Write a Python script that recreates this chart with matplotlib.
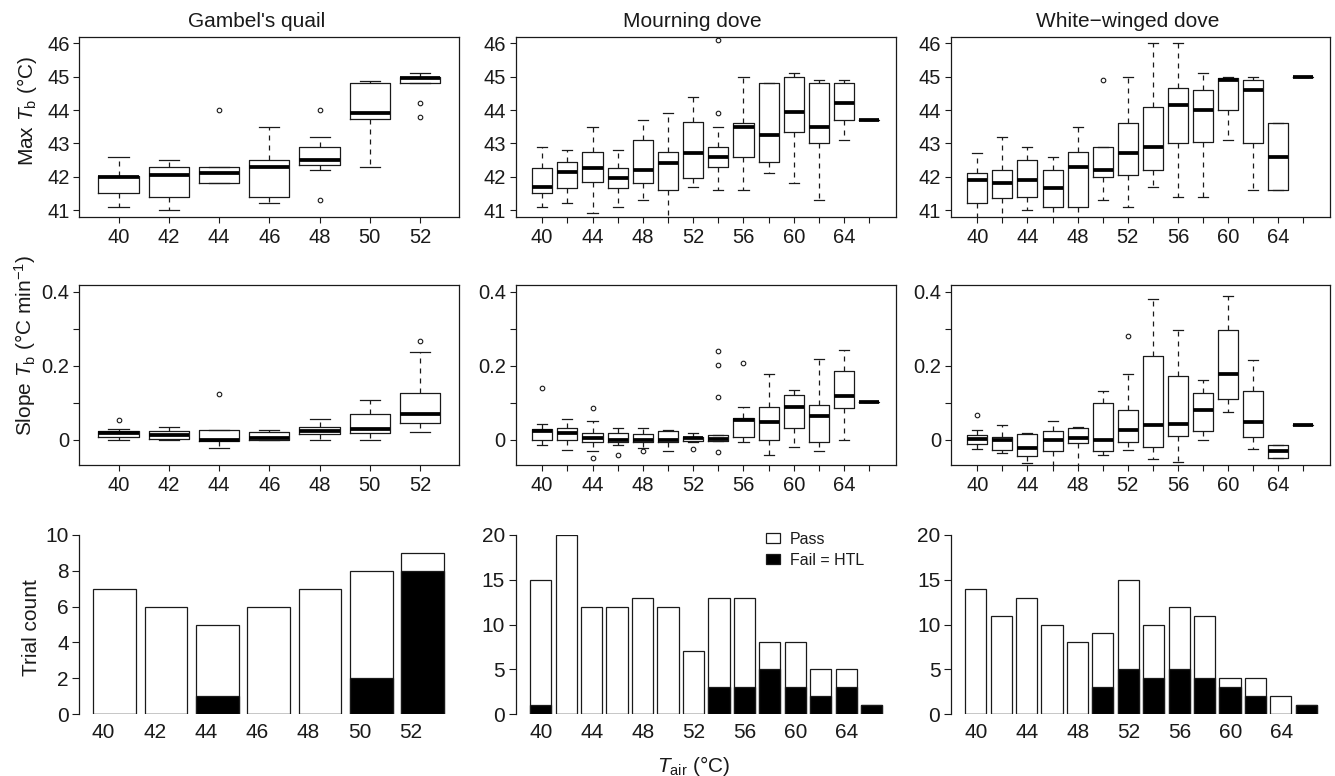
import matplotlib
matplotlib.use("Agg")
import matplotlib.pyplot as plt
from matplotlib.patches import Patch

plt.rcParams['font.family'] = ['Liberation Sans', 'DejaVu Sans']
plt.rcParams['mathtext.fontset'] = 'custom'
plt.rcParams['mathtext.rm'] = 'Liberation Sans'
plt.rcParams['mathtext.it'] = 'Liberation Sans:italic'

# ---------------- data ----------------
species = ["Gambel's quail", "Mourning dove", "White\u2212winged dove"]
gq_tair = [40, 42, 44, 46, 48, 50, 52]
dove_tair = [40, 42, 44, 46, 48, 50, 52, 54, 56, 58, 60, 62, 64, 66]

# box stats: (whislo, q1, median, q3, whishi)
gq_max = [(41.1, 41.5, 42.0, 42.02, 42.6), (41.0, 41.4, 42.05, 42.3, 42.5),
          (41.8, 41.8, 42.1, 42.3, 42.3), (41.2, 41.4, 42.3, 42.5, 43.5),
          (42.2, 42.35, 42.5, 42.9, 43.2), (42.3, 43.74, 43.9, 44.8, 44.88),
          (44.8, 44.8, 44.95, 45.0, 45.1)]
gq_max_out = [[], [], [44.0], [], [44.0, 41.3], [], [44.2, 43.8]]

md_max = [(41.1, 41.5, 41.7, 42.25, 42.9), (41.2, 41.65, 42.15, 42.45, 42.8),
          (40.9, 41.85, 42.25, 42.75, 43.5), (41.1, 41.65, 41.95, 42.25, 42.8),
          (41.3, 41.8, 42.2, 43.1, 43.7), (40.6, 41.6, 42.4, 42.75, 43.9),
          (41.7, 41.95, 42.7, 43.65, 44.4), (41.6, 42.3, 42.6, 42.9, 43.5),
          (41.6, 42.6, 43.5, 43.6, 45.0), (42.1, 42.45, 43.25, 44.8, 44.8),
          (41.8, 43.35, 43.95, 45.0, 45.1), (41.3, 43.0, 43.5, 44.8, 44.9),
          (43.1, 43.7, 44.2, 44.8, 44.9), (43.7, 43.7, 43.7, 43.7, 43.7)]
md_max_out = [[], [], [], [], [], [], [], [46.1, 43.9], [], [], [], [], [], []]

ww_max = [(40.6, 41.2, 41.9, 42.1, 42.7), (40.6, 41.35, 41.8, 42.2, 43.2),
          (41.0, 41.4, 41.9, 42.5, 42.9), (40.6, 41.1, 41.65, 42.2, 42.6),
          (40.6, 41.1, 42.3, 42.75, 43.5), (41.3, 42.0, 42.2, 42.9, 42.9),
          (41.1, 42.05, 42.7, 43.6, 45.0), (41.7, 42.2, 42.9, 44.1, 46.0),
          (41.4, 43.0, 44.15, 44.65, 46.0), (41.4, 43.05, 44.0, 44.6, 45.1),
          (43.1, 44.0, 44.9, 44.95, 45.0), (41.6, 43.0, 44.6, 44.9, 45.0),
          (41.6, 41.6, 42.6, 43.6, 43.6), (45.0, 45.0, 45.0, 45.0, 45.0)]
ww_max_out = [[], [], [], [], [], [44.9], [], [], [], [], [], [], [], []]

gq_slope = [(0.0, 0.007, 0.018, 0.025, 0.029), (0.0, 0.003, 0.0135, 0.024, 0.034),
            (-0.022, -0.003, 0.0, 0.027, 0.027), (0.0, 0.0, 0.006, 0.02, 0.027),
            (0.0, 0.015, 0.025, 0.036, 0.057), (0.0, 0.018, 0.029, 0.071, 0.109),
            (0.022, 0.045, 0.070, 0.128, 0.238)]
gq_slope_out = [[0.054], [], [0.125], [], [], [], [0.268]]

md_slope = [(-0.013, 0.0, 0.025, 0.029, 0.043), (-0.027, 0.0, 0.018, 0.031, 0.057),
            (-0.031, -0.0045, 0.0045, 0.018, 0.051), (-0.015, -0.0045, 0.0, 0.018, 0.031),
            (-0.022, -0.0045, 0.0, 0.015, 0.031), (-0.031, -0.007, 0.0, 0.024, 0.027),
            (-0.005, -0.003, 0.0045, 0.009, 0.018), (-0.004, -0.004, 0.003, 0.0135, 0.0135),
            (-0.007, 0.009, 0.053, 0.06, 0.09), (-0.04, 0.0, 0.0485, 0.089, 0.179),
            (-0.02, 0.031, 0.089, 0.121, 0.134), (-0.031, -0.007, 0.065, 0.0935, 0.22),
            (0.0, 0.087, 0.119, 0.185, 0.242), (0.1016, 0.1016, 0.1016, 0.1016, 0.1016)]
md_slope_out = [[0.139], [], [0.087, -0.049], [-0.04], [-0.029], [], [-0.025],
                [0.241, 0.203, 0.117, -0.034], [0.207], [], [], [], [], []]

ww_slope = [(-0.025, -0.012, 0.002, 0.012, 0.027), (-0.036, -0.027, 0.0, 0.009, 0.039),
            (-0.063, -0.043, -0.022, 0.015, 0.018), (-0.075, -0.030, 0.0, 0.024, 0.051),
            (-0.075, -0.009, 0.0054, 0.033, 0.036), (-0.04, -0.031, 0.0, 0.099, 0.132),
            (-0.027, -0.0045, 0.027, 0.080, 0.179), (-0.052, -0.018, 0.0396, 0.228, 0.382),
            (-0.061, 0.011, 0.043, 0.173, 0.298), (0.0, 0.025, 0.080, 0.126, 0.162),
            (0.074, 0.110, 0.179, 0.298, 0.388), (-0.025, 0.009, 0.047, 0.131, 0.215),
            (-0.048, -0.048, -0.031, -0.015, -0.015), (0.0396, 0.0396, 0.0396, 0.0396, 0.0396)]
ww_slope_out = [[0.066], [], [], [], [], [], [0.281], [], [], [], [], [], [], []]

gq_total = [7, 6, 5, 6, 7, 8, 9]
gq_fail = [0, 0, 1, 0, 0, 2, 8]
md_total = [15, 20, 12, 12, 13, 12, 7, 13, 13, 8, 8, 5, 5, 1]
md_fail = [1, 0, 0, 0, 0, 0, 0, 3, 3, 5, 3, 2, 3, 1]
ww_total = [14, 11, 13, 10, 8, 9, 15, 10, 12, 11, 4, 4, 2, 1]
ww_fail = [0, 0, 0, 0, 0, 3, 5, 4, 5, 4, 3, 2, 0, 1]

# ---------------- figure ----------------
W, H = 1335, 776
fig = plt.figure(figsize=(W / 100, H / 100), dpi=100)
INK = '#1a1a1a'
TICK_FS = 14.5
BAR_FS = 15


def ax_px(l, t, r, b):
    return fig.add_axes([l / W, 1 - b / H, (r - l) / W, (b - t) / H])


cols = [(79.3, 459.3), (515.5, 896), (950.7, 1330)]


def draw_box(ax, stats, outs, tair, ylim, yticks, ylabels):
    n = len(stats)
    bxs = []
    for (lo, q1, med, q3, hi), fl in zip(stats, outs):
        bxs.append(dict(whislo=lo, q1=q1, med=med, q3=q3, whishi=hi, fliers=fl))
    pos = list(range(1, n + 1))
    ax.bxp(bxs, positions=pos, widths=0.8, showfliers=True,
           boxprops=dict(color=INK, lw=0.9),
           whiskerprops=dict(color=INK, lw=0.9, linestyle=(0, (4, 4))),
           capprops=dict(color=INK, lw=0.9),
           medianprops=dict(color='black', lw=2.7, solid_capstyle='butt'),
           flierprops=dict(marker='o', markersize=3.3, markerfacecolor='none',
                           markeredgecolor=INK, markeredgewidth=0.8),
           manage_ticks=False)
    ax.set_xlim(1 - 0.5 - 0.04 * n, n + 0.5 + 0.04 * n)
    ax.set_ylim(*ylim)
    ax.set_xticks(pos)
    step = 1 if n <= 7 else 2
    ax.set_xticklabels([str(t) if i % step == 0 else '' for i, t in enumerate(tair)])
    ax.set_yticks(yticks)
    ax.set_yticklabels(ylabels)
    ax.tick_params(axis='both', direction='out', length=4.5, width=0.8,
                   color=INK, labelsize=TICK_FS, labelcolor=INK, pad=2.5)
    ax.tick_params(axis='x', pad=3.5)
    for s in ax.spines.values():
        s.set_color(INK)
        s.set_linewidth(0.9)


max_sets = [(gq_max, gq_max_out, gq_tair), (md_max, md_max_out, dove_tair),
            (ww_max, ww_max_out, dove_tair)]
slope_sets = [(gq_slope, gq_slope_out, gq_tair), (md_slope, md_slope_out, dove_tair),
              (ww_slope, ww_slope_out, dove_tair)]
bar_sets = [(gq_total, gq_fail, gq_tair, 10, 2), (md_total, md_fail, dove_tair, 20, 5),
            (ww_total, ww_fail, dove_tair, 20, 5)]

title_cx = [256.3, 692.5, 1127.5]

for c, (l, r) in enumerate(cols):
    ax = ax_px(l, 36.8, r, 216.7)
    st, ou, ta = max_sets[c]
    draw_box(ax, st, ou, ta, (40.8, 46.2), [41, 42, 43, 44, 45, 46],
             ['41', '42', '43', '44', '45', '46'])
    fig.text(title_cx[c] / W, 1 - 26.7 / H, species[c], ha='center', va='baseline',
             fontsize=15, color=INK)

    ax = ax_px(l, 285.3, r, 465)
    st, ou, ta = slope_sets[c]
    draw_box(ax, st, ou, ta, (-0.068, 0.418), [0, 0.1, 0.2, 0.3, 0.4],
             ['0', '', '0.2', '', '0.4'])

# bar panels
bar_geom = [(79.3, 114.7, 51.3, 459.3), (515.5, 540.7, 25.46, 896),
            (950.7, 975.7, 25.43, 1330)]
bw = 0.833
for c in range(3):
    spine, c0, sp, rr = bar_geom[c]
    tot, fail, ta, ymax, ystep = bar_sets[c]
    ax = ax_px(spine, 534.7, rr, 714.3)
    n = len(tot)
    xs = list(range(n))
    ax.bar(xs, tot, width=bw, color='white', edgecolor=INK, linewidth=0.9)
    ax.bar(xs, fail, width=bw, color='black', edgecolor=INK, linewidth=0.9)
    ax.set_xlim((spine - c0) / sp, (rr - c0) / sp)
    ax.set_ylim(0, ymax)
    step = 1 if n <= 7 else 2
    tick_idx = list(range(0, n, step))
    if n > 7:
        tick_idx = [i for i in tick_idx if i < 13]
    ax.set_xticks([i - bw / 2 - 0.03 for i in tick_idx])
    ax.set_xticklabels([str(ta[i]) for i in tick_idx], ha='left')
    ax.tick_params(axis='x', length=0, pad=6.5, labelsize=BAR_FS, labelcolor=INK)
    ax.set_yticks(list(range(0, ymax + 1, ystep)))
    ax.tick_params(axis='y', direction='out', length=5, width=0.8, color=INK,
                   labelsize=BAR_FS, labelcolor=INK, pad=2.5)
    for s in ['top', 'right', 'bottom']:
        ax.spines[s].set_visible(False)
    ax.spines['left'].set_bounds(0, ymax)
    ax.spines['left'].set_color(INK)
    ax.spines['left'].set_linewidth(0.9)
    if c == 1:
        handles = [Patch(facecolor='white', edgecolor=INK, linewidth=0.9, label='Pass'),
                   Patch(facecolor='black', edgecolor=INK, linewidth=0.9, label='Fail = HTL')]
        ax.legend(handles=handles, loc='upper left',
                  bbox_to_anchor=(766 / W, 1 - 531.5 / H), bbox_transform=fig.transFigure,
                  frameon=False, fontsize=11.5, handlelength=0.85, handleheight=0.62,
                  handletextpad=0.65, labelspacing=0.38, borderpad=0, borderaxespad=0,
                  labelcolor=INK)

# axis labels
fig.text(33.3 / W, 1 - 111 / H, r'Max $\mathit{T}_{\mathrm{b}}$ (°C)', rotation=90,
         rotation_mode='anchor', ha='center', va='baseline', fontsize=15, color=INK)
fig.text(32 / W, 1 - 345 / H, r'Slope $\mathit{T}_{\mathrm{b}}$ (°C min$^{-1}$)', rotation=90,
         rotation_mode='anchor', ha='center', va='baseline', fontsize=15, color=INK)
fig.text(37.3 / W, 1 - 628 / H, 'Trial count', rotation=90,
         rotation_mode='anchor', ha='center', va='baseline', fontsize=15, color=INK)
fig.text(693.3 / W, 1 - 771.5 / H, r'$\mathit{T}_{\mathrm{air}}$ (°C)', ha='center',
         va='baseline', fontsize=15, color=INK)

fig.savefig('out.png', dpi=100)
